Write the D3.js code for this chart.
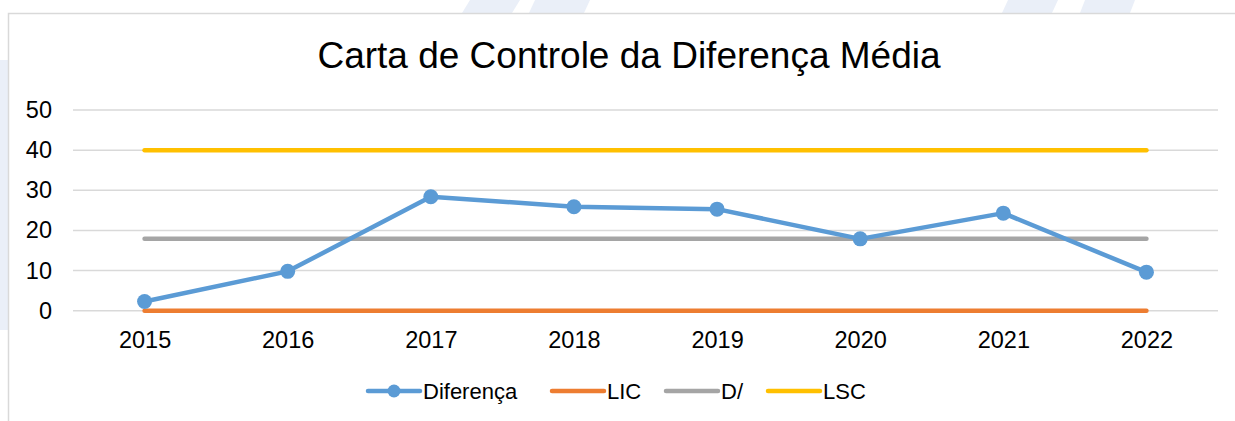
<!DOCTYPE html>
<html>
<head>
<meta charset="utf-8">
<script src="https://cdn.jsdelivr.net/npm/d3@7"></script>
<style>
  html, body { margin: 0; padding: 0; background: #ffffff; }
  svg { display: block; font-family: "Liberation Sans", Arial, sans-serif; }
</style>
</head>
<body>
<svg id="chart" width="1235" height="421"></svg>
<script>
// Control chart data
const years = ["2015", "2016", "2017", "2018", "2019", "2020", "2021", "2022"];
const diferenca = [2.3, 9.8, 28.4, 25.9, 25.3, 17.9, 24.3, 9.6];
const lic = [0, 0, 0, 0, 0, 0, 0, 0];
const media = [17.9, 17.9, 17.9, 17.9, 17.9, 17.9, 17.9, 17.9];
const lsc = [40, 40, 40, 40, 40, 40, 40, 40];
const yTicks = [0, 10, 20, 30, 40, 50];
const title = "Carta de Controle da Diferença Média";

const colors = { dif: "#5B9BD5", lic: "#ED7D31", media: "#A5A5A5", lsc: "#FFC000" };

const svg = d3.select("#chart");

// faint backdrop shapes around the chart panel
const deco = svg.append("g").attr("fill", "#eaeff8");
deco.append("polygon").attr("points", "0,60 8,60 8,330 0,330");
deco.append("polygon").attr("points", "470,0 520,0 512,13 462,13");
deco.append("polygon").attr("points", "535,0 590,0 584,13 529,13");
deco.append("polygon").attr("points", "1008,0 1058,0 1052,13 1002,13");
deco.append("polygon").attr("points", "1085,0 1135,0 1130,13 1080,13");

// chart panel
svg.append("rect")
  .attr("x", 8.5).attr("y", 13.5)
  .attr("width", 1240).attr("height", 420)
  .attr("fill", "#ffffff")
  .attr("stroke", "#d9d9d9").attr("stroke-width", 1.5);

const x = d3.scalePoint().domain(years).range([73, 1218]).padding(0.5);
const y = d3.scaleLinear().domain([0, 50]).range([310.7, 110]);

// title
svg.append("text")
  .attr("x", 629).attr("y", 68)
  .attr("text-anchor", "middle")
  .attr("font-size", 37)
  .attr("fill", "#000")
  .text(title);

// horizontal gridlines
svg.append("g")
  .selectAll("line").data(yTicks).join("line")
  .attr("x1", 73).attr("x2", 1218)
  .attr("y1", d => y(d)).attr("y2", d => y(d))
  .attr("stroke", "#d9d9d9").attr("stroke-width", 1.5);

// y axis labels
const yAxis = svg.append("g")
  .attr("transform", "translate(52,0)")
  .call(d3.axisLeft(y).tickValues(yTicks).tickSize(0).tickPadding(0));
yAxis.select(".domain").remove();
yAxis.selectAll("text")
  .attr("font-size", 23.5).attr("fill", "#000")
  .attr("font-family", "Liberation Sans, Arial, sans-serif");

// x axis labels
const xAxis = svg.append("g")
  .attr("transform", "translate(0,310.7)")
  .call(d3.axisBottom(x).tickSize(0).tickPadding(0));
xAxis.select(".domain").remove();
xAxis.selectAll("text")
  .attr("font-size", 23.5).attr("fill", "#000")
  .attr("dy", null).attr("y", 37.6)
  .attr("font-family", "Liberation Sans, Arial, sans-serif");

const line = d3.line().x((d, i) => x(years[i])).y(d => y(d));

// reference lines
[[lic, colors.lic], [media, colors.media], [lsc, colors.lsc]].forEach(([vals, c]) => {
  svg.append("path")
    .attr("d", line(vals))
    .attr("fill", "none")
    .attr("stroke", c).attr("stroke-width", 4.5)
    .attr("stroke-linecap", "round");
});

// difference series
svg.append("path")
  .attr("d", line(diferenca))
  .attr("fill", "none")
  .attr("stroke", colors.dif).attr("stroke-width", 4.5)
  .attr("stroke-linejoin", "round");

svg.append("g")
  .selectAll("circle").data(diferenca).join("circle")
  .attr("cx", (d, i) => x(years[i]))
  .attr("cy", d => y(d))
  .attr("r", 7.5)
  .attr("fill", colors.dif);

// legend
const legendItems = [
  { name: "Diferença", color: colors.dif, x0: 368, marker: true },
  { name: "LIC", color: colors.lic, x0: 552 },
  { name: "D/", color: colors.media, x0: 666 },
  { name: "LSC", color: colors.lsc, x0: 768 }
];
const lg = svg.append("g");
legendItems.forEach(it => {
  lg.append("line")
    .attr("x1", it.x0).attr("x2", it.x0 + 52)
    .attr("y1", 391).attr("y2", 391)
    .attr("stroke", it.color).attr("stroke-width", 4.5)
    .attr("stroke-linecap", "round");
  if (it.marker) {
    lg.append("circle").attr("cx", it.x0 + 26).attr("cy", 391).attr("r", 6.5).attr("fill", it.color);
  }
  lg.append("text")
    .attr("x", it.x0 + 55).attr("y", 399)
    .attr("font-size", 22).attr("fill", "#000")
    .text(it.name);
});
</script>
</body>
</html>
